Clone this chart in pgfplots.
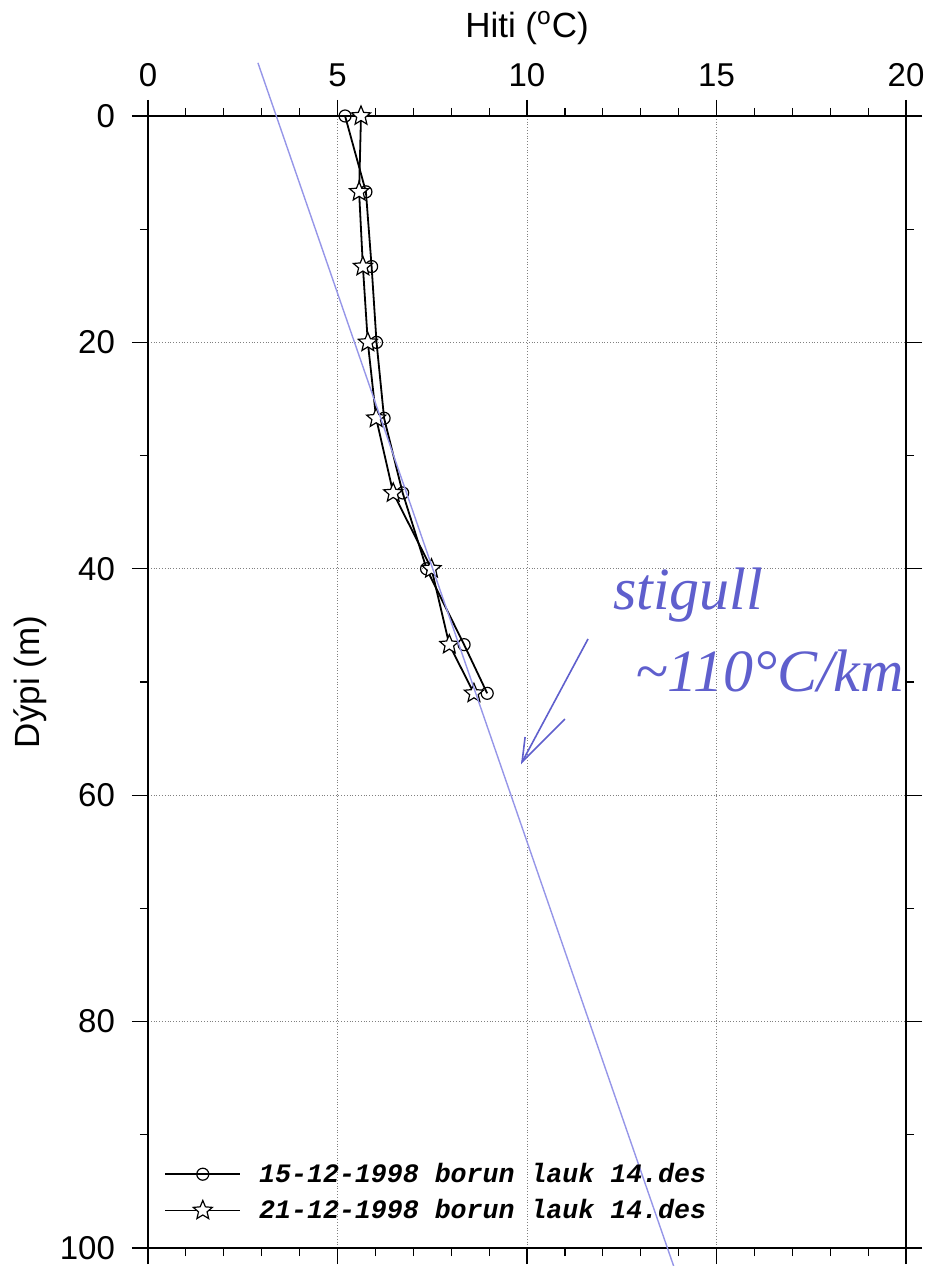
\documentclass[border=0pt]{standalone}
\usepackage{fontspec}
\setmainfont{Liberation Sans}
\newfontfamily\legfont{Liberation Mono}
\newfontfamily\handfont{Liberation Serif}
\usepackage{pgfplots}
\pgfplotsset{compat=1.18}
\usetikzlibrary{arrows.meta}
\definecolor{pen}{RGB}{150,150,232}
\definecolor{ink}{RGB}{95,95,205}

\pgfdeclareplotmark{ostar}{%
  \pgfpathmoveto{\pgfpointpolar{90}{\pgfplotmarksize}}%
  \pgfpathlineto{\pgfpointpolar{126}{0.45\pgfplotmarksize}}%
  \pgfpathlineto{\pgfpointpolar{162}{\pgfplotmarksize}}%
  \pgfpathlineto{\pgfpointpolar{198}{0.45\pgfplotmarksize}}%
  \pgfpathlineto{\pgfpointpolar{234}{\pgfplotmarksize}}%
  \pgfpathlineto{\pgfpointpolar{270}{0.45\pgfplotmarksize}}%
  \pgfpathlineto{\pgfpointpolar{306}{\pgfplotmarksize}}%
  \pgfpathlineto{\pgfpointpolar{342}{0.45\pgfplotmarksize}}%
  \pgfpathlineto{\pgfpointpolar{18}{\pgfplotmarksize}}%
  \pgfpathlineto{\pgfpointpolar{54}{0.45\pgfplotmarksize}}%
  \pgfpathclose
  \pgfusepathqfillstroke
}

\begin{document}
\begin{tikzpicture}
\begin{axis}[
  scale only axis,
  width=379pt, height=566pt,
  xmin=0, xmax=20, ymin=0, ymax=100,
  y dir=reverse,
  clip mode=individual,
  xtick={0,5,...,20}, ytick={0,20,...,100},
  minor x tick num=4, minor y tick num=1,
  tick align=outside,
  tick pos=both,
  xticklabel pos=upper,
  yticklabel pos=left,
  major tick length=8pt, minor tick length=4pt,
  every tick/.style={black, line width=0.6pt},
  axis line style={line width=0.6pt},
  grid=major,
  major grid style={densely dotted, gray, line width=0.4pt},
  /pgf/number format/assume math mode=true,
  ticklabel style={font=\fontsize{16.5}{19}\selectfont},
  xticklabel style={yshift=3pt},
  yticklabel style={xshift=-5pt},
  title={Hiti (\textsuperscript{o}C)},
  title style={at={(axis description cs:0.5,1)}, anchor=center, yshift=38pt, font=\fontsize{17.5}{20}\selectfont},
  ylabel={Dýpi (m)},
  ylabel style={at={(axis description cs:0,0.5)}, anchor=center, yshift=59pt, font=\fontsize{17.5}{20}\selectfont},
  legend style={draw=none, fill=none, at={(axis description cs:0,0)}, anchor=south west,
    xshift=6pt, yshift=9pt, font=\fontsize{13.3}{15}\legfont\bfseries\itshape,
    row sep=3pt, column sep=7pt, inner sep=2pt},
  legend cell align=left,
  legend image code/.code={\draw[mark repeat=2,mark phase=2,#1] plot coordinates {(0pt,0pt) (18.75pt,0pt) (37.5pt,0pt)};},
]
\addplot[black, line width=0.9pt, mark=o, mark size=3pt, mark options={fill=white, line width=0.6pt}] coordinates {
  (5.2,0) (5.75,6.7) (5.9,13.3) (6.03,20) (6.23,26.7) (6.72,33.3) (7.35,40) (8.34,46.7) (8.95,51)
};
\addlegendentry{15-12-1998 borun lauk 14.des}
\addplot[black, line width=0.9pt, mark=ostar, mark size=5pt, mark options={fill=white, line width=0.6pt}] coordinates {
  (5.62,0) (5.57,6.7) (5.67,13.3) (5.8,20) (6.02,26.7) (6.47,33.3) (7.48,40) (7.95,46.7) (8.6,51)
};
\addlegendentry{21-12-1998 borun lauk 14.des}
\addplot[pen, line width=0.7pt, no marks, forget plot, clip=false] coordinates {(2.9,-4.7) (13.87,101.6)};
% handwritten annotation
\draw[ink, line width=0.8pt] (axis cs:11.61,46.2) -- (axis cs:9.87,57.07);
\draw[ink, line width=0.8pt] (axis cs:11.0,53.27) -- (axis cs:9.87,57.07) -- (axis cs:9.95,54.86);
\node[ink, font=\fontsize{30}{30}\handfont\itshape] at (axis cs:14.25,42.3) {stigull};
\node[ink, font=\fontsize{30}{30}\handfont\itshape] at (axis cs:16.4,49.0) {\textasciitilde110°C/km};
\end{axis}
\pgfresetboundingbox
\path ([shift={(-74pt,-9pt)}]current axis.south west) rectangle ([shift={(11.5pt,58pt)}]current axis.north east);
\end{tikzpicture}
\end{document}
